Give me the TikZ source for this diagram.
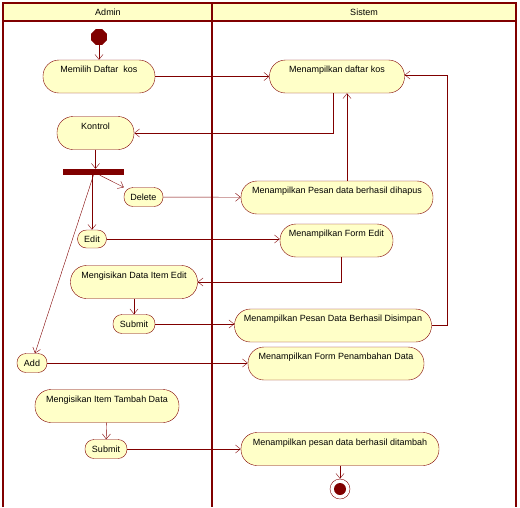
\documentclass[tikz,border=0pt]{standalone}
\usepackage{fontspec}
\setmainfont{Liberation Sans}
\usetikzlibrary{arrows.meta,shapes.geometric}
\definecolor{umlred}{HTML}{800000}
\definecolor{umlfill}{HTML}{FFFFC8}
\tikzset{
  act/.style={draw=umlred, fill=umlfill, rectangle, rounded corners=16pt,
    minimum height=33pt, text height=6.5pt, text depth=14.5pt,
    inner ysep=6pt, inner xsep=2pt},
  btn/.style={draw=umlred, fill=umlfill, rectangle, rounded corners=9pt,
    minimum height=19pt, inner sep=1pt},
  lane/.style={draw=umlred, line width=2.5pt},
  flow/.style={->, draw=umlred},
}
\begin{document}
\begin{tikzpicture}[x=1pt,y=-1pt, font=\fontsize{9}{10}\selectfont,
  >={Straight Barb[length=5pt,width=8pt]}]
  \useasboundingbox (0,0) rectangle (520,507);
  % swimlanes
  \fill[umlfill] (3,3) rectangle (516,21);
  \draw[lane] (3,507) -- (3,3) -- (516,3) -- (516,507);
  \draw[lane] (212,3) -- (212,507);
  \draw[lane] (3,21) -- (516,21);
  \node at (108,12) {Admin};
  \node at (364,12) {Sistem};

  % admin lane
  \node[regular polygon, regular polygon sides=8, fill=umlred, minimum size=17pt, inner sep=0pt] (start) at (99,37) {};
  \node[act, minimum width=112pt] (pilih) at (99,76.5) {Memilih Daftar\ \ kos};
  \node[act, minimum width=77pt] (kontrol) at (95.5,133) {Kontrol};
  \node[fill=umlred, minimum width=61pt, minimum height=6pt, inner sep=0pt] (fork) at (93.5,172) {};
  \node[btn, minimum width=39pt] (hapusbtn) at (143.5,197) {Delete};
  \node[btn, minimum width=29pt, minimum height=18pt] (edit) at (92,239) {Edit};
  \node[act, minimum width=127pt] (isiedit) at (134,282) {Mengisikan Data Item Edit};
  \node[btn, minimum width=42pt] (submita) at (134,324) {Submit};
  \node[btn, minimum width=30pt] (add) at (32,363) {Add};
  \node[act, minimum width=144pt] (isitambah) at (107,406) {Mengisikan Item Tambah Data};
  \node[btn, minimum width=42pt] (submitb) at (106,449) {Submit};

  % sistem lane
  \node[act, minimum width=135pt] (daftar) at (337,76.5) {Menampilkan daftar kos};
  \node[act, minimum width=192pt] (hapus) at (337,197.5) {Menampilkan Pesan data berhasil dihapus};
  \node[act, minimum width=113pt] (formedit) at (336.5,240.5) {Menampilkan Form Edit};
  \node[act, minimum width=197pt] (simpan) at (333,325.5) {Menampilkan Pesan Data Berhasil Disimpan};
  \node[act, minimum width=176pt] (formtambah) at (336,363.5) {Menampilkan Form Penambahan Data};
  \node[act, minimum width=198pt] (ditambah) at (340,449) {Menampilkan pesan data berhasil ditambah};
  \node[circle, draw=umlred, fill=white, minimum size=20pt, inner sep=0pt] (end) at (340,489) {};
  \fill[umlred] (end) circle (6pt);
  \coordinate (balik) at (447,75);

  % flows
  \draw[flow] (start) -- (pilih);
  \draw[flow] (pilih) -- (daftar);
  \draw[flow] ([xshift=-4pt]daftar.south) |- (kontrol);
  \draw[flow] (kontrol.south) -- (kontrol.south |- fork.north);
  \draw[flow] (fork) -- (hapusbtn.north west);
  \draw[flow] (fork.south -| edit.north) -- (edit.north);
  \draw[flow] (fork.south) -- ([xshift=3pt]add.north);
  \draw[flow] (hapusbtn) -- (hapus);
  \draw[flow] ([xshift=10pt]hapus.north) -- ([xshift=10pt]hapus.north |- daftar.south);
  \draw[flow] (edit.east) -- (edit.east -| formedit.west);
  \draw[flow] ([xshift=4.5pt]formedit.south) |- (isiedit);
  \draw[flow] (isiedit) -- (submita);
  \draw[flow] (submita.east) -- (submita.east -| simpan.west);
  \draw[flow] (simpan.east) -| (balik) -- (daftar.east |- balik);
  \draw[flow] (add) -- (add -| formtambah.west);
  \draw[flow] (isitambah) -- (submitb);
  \draw[flow] (submitb) -- (ditambah);
  \draw[flow] (ditambah) -- (end);
\end{tikzpicture}
\end{document}
